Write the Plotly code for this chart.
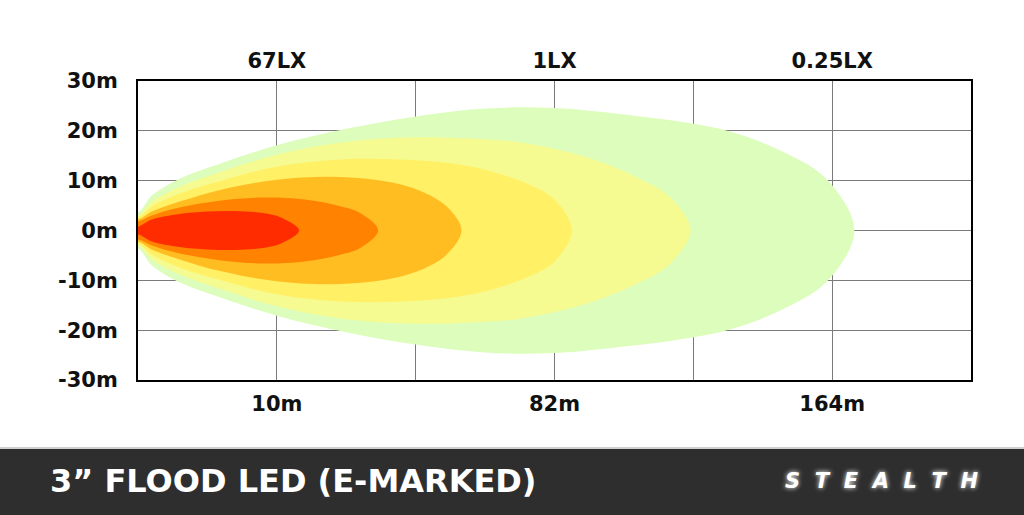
import plotly.graph_objects as go

# beam contours, outer to inner: distance (grid units) and half-width (m)
GREEN_U = [0, 0.1, 0.3, 0.6, 1.0, 1.5, 2.0, 2.5, 3.0, 3.5, 3.91, 4.27, 4.63, 4.96, 5.16]
GREEN_W = [3.6, 7.0, 10.4, 13.5, 17.1, 20.4, 22.9, 24.5, 24.6, 23.3, 21.8, 19.8, 16.0, 10.3, 0]

PALE_U = [0, 0.1, 0.3, 0.6, 1.0, 1.5, 2.0, 2.5, 2.75, 3.23, 3.59, 3.83, 3.98]
PALE_W = [3.0, 5.8, 8.8, 11.8, 15.2, 17.8, 18.7, 18.3, 17.7, 14.7, 10.7, 6.7, 0]

YELLOW_U = [0, 0.1, 0.3, 0.6, 1.0, 1.5, 2.0, 2.25, 2.5, 2.82, 3.0, 3.125]
YELLOW_W = [2.6, 4.8, 7.4, 10.0, 12.8, 14.3, 14.1, 13.5, 12.2, 9.2, 6.2, 0]

AMBER_U = [0, 0.1, 0.3, 0.6, 1.0, 1.4, 1.8, 2.03, 2.22, 2.33]
AMBER_W = [2.2, 3.8, 5.8, 8.2, 10.2, 10.8, 9.8, 8.0, 4.9, 0]

ORANGE_U = [0, 0.1, 0.3, 0.6, 0.9, 1.2, 1.45, 1.6, 1.73]
ORANGE_W = [1.8, 3.0, 4.6, 6.0, 6.6, 6.2, 4.9, 3.5, 0]

RED_U = [0, 0.1, 0.3, 0.5, 0.7, 0.9, 1.03, 1.16]
RED_W = [0.8, 2.2, 3.3, 3.8, 3.9, 3.5, 2.6, 0]

CONTOURS = [
    (GREEN_U, GREEN_W, "#dcfdbb"),
    (PALE_U, PALE_W, "#f5fb90"),
    (YELLOW_U, YELLOW_W, "#fff066"),
    (AMBER_U, AMBER_W, "#ffbd22"),
    (ORANGE_U, ORANGE_W, "#ff8200"),
    (RED_U, RED_W, "#ff2c00"),
]

X_TICKS = [1, 2, 3, 4, 5]
X_LABELS = ["10m", "", "82m", "", "164m"]
TOP_TICKS = [1, 3, 5]
TOP_LABELS = ["67LX", "1LX", "0.25LX"]
Y_TICKS = [-30, -20, -10, 0, 10, 20, 30]
Y_LABELS = ["-30m", "-20m", "-10m", "0m", "10m", "20m", "30m"]

FONT = "DejaVu Sans"

fig = go.Figure()
for us, ws, color in CONTOURS:
    # run slightly past the left border so the closing edge is clipped away
    xs = [-0.15] + us + us[::-1][1:] + [-0.15]
    ys = [ws[0]] + ws + [-w for w in ws[::-1][1:]] + [-ws[0]]
    fig.add_trace(go.Scatter(
        x=xs, y=ys, mode="lines", fill="toself", fillcolor=color,
        line=dict(color=color, width=0, shape="spline", smoothing=1.0),
        hoverinfo="skip", showlegend=False,
    ))

# dummy trace so the top axis is drawn
fig.add_trace(go.Scatter(x=[0, 6], y=[0, 0], xaxis="x2", mode="lines",
                         line=dict(width=0), hoverinfo="skip", showlegend=False))

tick_font = dict(family=FONT, size=21, color="#111111", weight="bold")

fig.update_layout(
    width=1024, height=515,
    margin=dict(l=138, r=53, t=81, b=135),
    paper_bgcolor="white", plot_bgcolor="white",
    xaxis=dict(
        range=[0, 6], tickvals=X_TICKS, ticktext=X_LABELS,
        showgrid=True, gridcolor="#7a7a7a", gridwidth=1.3,
        zeroline=False, showline=True, linecolor="black", linewidth=2, mirror=True,
        tickfont=tick_font, ticks="", ticklabelstandoff=4,
    ),
    xaxis2=dict(
        range=[0, 6], overlaying="x", side="top", tickvals=TOP_TICKS,
        ticktext=TOP_LABELS, showgrid=False, zeroline=False, showline=False,
        tickfont=tick_font, ticks="", ticklabelstandoff=8,
    ),
    yaxis=dict(
        range=[-30, 30], tickvals=Y_TICKS, ticktext=Y_LABELS,
        showgrid=True, gridcolor="#7a7a7a", gridwidth=1.3,
        zeroline=False, showline=True, linecolor="black", linewidth=2, mirror=True,
        tickfont=tick_font, ticks="", ticklabelstandoff=14,
    ),
    shapes=[
        dict(type="rect", xref="paper", yref="paper", x0=-0.2, x1=1.1,
             y0=-0.4535, y1=-0.2274, fillcolor="#2e2e2e", line=dict(width=0),
             layer="above"),
        dict(type="line", xref="paper", yref="paper", x0=-0.2, x1=1.1,
             y0=-0.2274, y1=-0.2274, line=dict(color="#cfcfcf", width=2)),
    ],
    annotations=[
        dict(text="3\u201d FLOOD LED (E-MARKED)", xref="paper", yref="paper",
             x=-0.1081, y=-0.3378, xanchor="left", yanchor="middle", showarrow=False,
             font=dict(family=FONT, size=32, color="white", weight="bold")),
        dict(text="\u00a0\u00a0".join("STEALTH"), xref="paper", yref="paper",
             x=1.0108, y=-0.3378, xanchor="right", yanchor="middle", showarrow=False,
             font=dict(family=FONT, size=21, color="white", weight="bold",
                       style="italic", shadow="0px 0px 5px #ffffff")),
    ],
)

# drop the page's default body margin so the figure sits flush in the window
fig.write_html("out.html", config={"displayModeBar": False},
               post_script="document.body.style.margin = '0';")
